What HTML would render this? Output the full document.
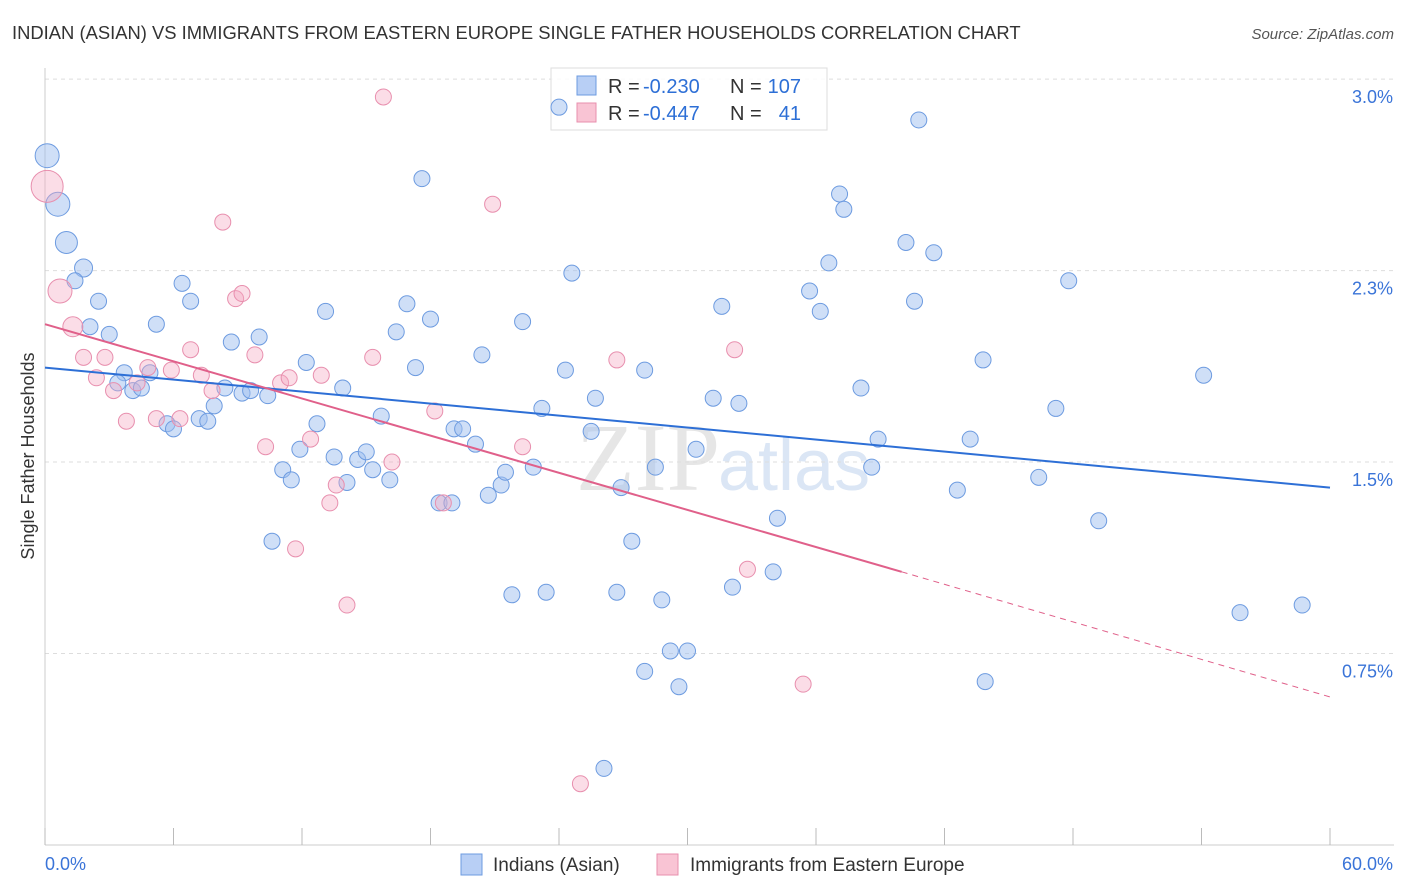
<!DOCTYPE html>
<html><head><meta charset="utf-8"><style>
body{margin:0;background:#fff;font-family:"Liberation Sans",sans-serif;}
#wrap{position:relative;width:1406px;height:892px;overflow:hidden;}
</style></head><body>
<div id="wrap">
<svg id="svg" width="1406" height="892" xmlns="http://www.w3.org/2000/svg">
<text x="12" y="39" font-size="18.4" fill="#333">INDIAN (ASIAN) VS IMMIGRANTS FROM EASTERN EUROPE SINGLE FATHER HOUSEHOLDS CORRELATION CHART</text>
<text x="1394" y="39" font-size="15" fill="#555" text-anchor="end" font-style="italic">Source: ZipAtlas.com</text>
<text x="720" y="490" font-size="96" fill="#e6e6e6" font-family="Liberation Serif,serif" text-anchor="end">ZIP</text>
<text x="718" y="490" font-size="72" fill="#dbe6f5">atlas</text>
<g id="grid"></g><g id="axes"></g>
<g>
<rect x="551" y="68" width="276" height="62" fill="rgba(255,255,255,0.85)" stroke="#ddd"/>
<rect x="577" y="76" width="19" height="19" fill="#b8cff5" stroke="#6d9be0"/>
<rect x="577" y="103" width="19" height="19" fill="#f9c4d4" stroke="#e88fae"/>
<text x="608" y="93" font-size="20" fill="#333">R =</text>
<text x="643" y="93" font-size="20" fill="#2d6fd6">-0.230</text>
<text x="730" y="93" font-size="20" fill="#333">N =</text>
<text x="801" y="93" font-size="20" fill="#2d6fd6" text-anchor="end">107</text>
<text x="608" y="120" font-size="20" fill="#333">R =</text>
<text x="643" y="120" font-size="20" fill="#2d6fd6">-0.447</text>
<text x="730" y="120" font-size="20" fill="#333">N =</text>
<text x="801" y="120" font-size="20" fill="#2d6fd6" text-anchor="end">41</text>
</g>
<g id="pts"></g><g id="lines"></g>
<text transform="translate(34,456) rotate(-90)" font-size="18" fill="#333" text-anchor="middle">Single Father Households</text>
<g>
<rect x="461" y="854" width="21" height="21" fill="#b8cff5" stroke="#6d9be0"/>
<text x="493" y="871" font-size="19" fill="#333">Indians (Asian)</text>
<rect x="657" y="854" width="21" height="21" fill="#f9c4d4" stroke="#e88fae"/>
<text x="690" y="871" font-size="19" fill="#333">Immigrants from Eastern Europe</text>
</g>
</svg>
</div>
<script>
const blueX=[0.1,0.6,1.0,1.8,1.4,2.5,2.1,3.0,5.2,6.4,6.8,8.7,10.0,3.7,3.4,4.1,4.5,4.9,5.7,6.0,7.2,7.6,7.9,8.4,9.2,9.6,10.4,12.2,13.1,13.9,12.7,11.1,11.5,11.9,10.6,13.5,14.1,14.6,15.0,15.3,16.1,15.7,16.4,16.9,17.3,18.0,17.6,18.4,19.0,19.1,19.5,20.1,20.4,20.7,21.3,21.5,22.3,22.8,23.2,21.8,23.4,24.0,24.3,24.6,25.7,25.5,26.9,27.4,26.7,28.0,28.5,28.8,28.0,29.2,30.0,29.6,30.4,31.2,31.6,32.4,32.1,34.2,34.0,35.7,36.2,36.6,37.1,37.3,38.1,38.6,38.9,40.2,40.6,40.8,41.5,42.6,43.2,43.8,43.9,46.4,47.2,47.8,49.2,54.1,55.8,58.7,26.1];
const blueY=[2.70,2.51,2.36,2.26,2.21,2.13,2.03,2.00,2.04,2.20,2.13,1.97,1.99,1.85,1.81,1.78,1.79,1.85,1.65,1.63,1.67,1.66,1.72,1.79,1.77,1.78,1.76,1.89,2.09,1.79,1.65,1.47,1.43,1.55,1.19,1.52,1.42,1.51,1.54,1.47,1.43,1.68,2.01,2.12,1.87,2.06,2.61,1.34,1.34,1.63,1.63,1.57,1.92,1.37,1.41,1.46,2.05,1.48,1.71,0.98,0.99,2.89,1.86,2.24,1.75,1.62,1.40,1.19,0.99,1.86,1.48,0.96,0.68,0.76,0.76,0.62,1.55,1.75,2.11,1.73,1.01,1.28,1.07,2.17,2.09,2.28,2.55,2.49,1.79,1.48,1.59,2.36,2.13,2.84,2.32,1.39,1.59,1.90,0.64,1.44,1.71,2.21,1.27,1.84,0.91,0.94,0.30];
const blueR=[12,12,11,9];
const pinkX=[0.1,0.7,1.3,1.8,2.4,2.8,3.2,3.8,4.3,4.8,5.2,5.9,6.3,6.8,7.3,7.8,8.3,8.9,9.2,9.8,10.3,11.0,11.4,11.7,12.4,12.9,13.3,13.6,14.1,15.3,15.8,16.2,18.2,18.6,20.9,22.3,25.0,26.7,32.2,32.8,35.4];
const pinkY=[2.58,2.17,2.03,1.91,1.83,1.91,1.78,1.66,1.81,1.87,1.67,1.86,1.67,1.94,1.84,1.78,2.44,2.14,2.16,1.92,1.56,1.81,1.83,1.16,1.59,1.84,1.34,1.41,0.94,1.91,2.93,1.50,1.70,1.34,2.51,1.56,0.24,1.90,1.94,1.08,0.63];
const pinkR=[16,12,10];
const yTicks=[0.75,1.5,2.25,3.0];
const yTickLabels=["0.75%","1.5%","2.3%","3.0%"];
const xTicks=[0,6,12,18,24,30,36,42,48,54,60];
const blueTrend=[[0,1.87],[60,1.40]];
const pinkTrend=[[0,2.04],[40,1.07],[60,0.58]];
const X0=45,X1=1330,YB=845,YPX=255.3;
const sx=v=>X0+(v/60)*(X1-X0);
const sy=v=>YB-v*YPX;
const NS="http://www.w3.org/2000/svg";
function mk(tag,attrs,parent){const e=document.createElementNS(NS,tag);for(const k in attrs)e.setAttribute(k,attrs[k]);document.getElementById(parent).appendChild(e);return e;}
yTicks.forEach((t,i)=>{
 const g=mk('line',{x1:X0,x2:1394,y1:sy(t),y2:sy(t),stroke:'#ddd','stroke-dasharray':'4,4'},'grid');
 
 
 const l=mk('text',{x:1393,y:sy(t)+24,'font-size':18,fill:'#3a74d8','text-anchor':'end'},'axes');
 l.textContent=yTickLabels[i];
 
 
});
mk('line',{x1:X0,x2:X0,y1:68,y2:YB,stroke:'#ccc'},'axes');
mk('line',{x1:X0,x2:1394,y1:YB,y2:YB,stroke:'#ccc'},'axes');
xTicks.forEach(t=>{
 const k=mk('line',{x1:sx(t),x2:sx(t),y1:828,y2:YB,stroke:'#bbb'},'axes');
 
 
});
const xl0=mk('text',{x:45,y:870,'font-size':18,fill:'#3a74d8'},'axes');xl0.textContent='0.0%';


const xl1=mk('text',{x:1393,y:870,'font-size':18,fill:'#3a74d8','text-anchor':'end'},'axes');xl1.textContent='60.0%';


blueX.forEach((x,i)=>{
 const c=mk('circle',{cx:sx(x),cy:sy(blueY[i]),r:blueR[i]||8,fill:'rgba(160,192,240,0.5)',stroke:'#6d9be0','stroke-width':1},'pts');
 
 
});
pinkX.forEach((x,i)=>{
 const c=mk('circle',{cx:sx(x),cy:sy(pinkY[i]),r:pinkR[i]||8,fill:'rgba(246,170,196,0.4)',stroke:'#e88fae','stroke-width':1},'pts');
 
 
});
const bl=mk('line',{x1:sx(blueTrend[0][0]),y1:sy(blueTrend[0][1]),x2:sx(blueTrend[1][0]),y2:sy(blueTrend[1][1]),stroke:'#2d6fd6','stroke-width':2},'lines');


const pl=mk('line',{x1:sx(pinkTrend[0][0]),y1:sy(pinkTrend[0][1]),x2:sx(pinkTrend[1][0]),y2:sy(pinkTrend[1][1]),stroke:'#e0608a','stroke-width':2},'lines');


const pd=mk('line',{x1:sx(pinkTrend[1][0]),y1:sy(pinkTrend[1][1]),x2:sx(pinkTrend[2][0]),y2:sy(pinkTrend[2][1]),stroke:'#e0608a','stroke-width':1,'stroke-dasharray':'6,5'},'lines');


</script>
</body></html>
